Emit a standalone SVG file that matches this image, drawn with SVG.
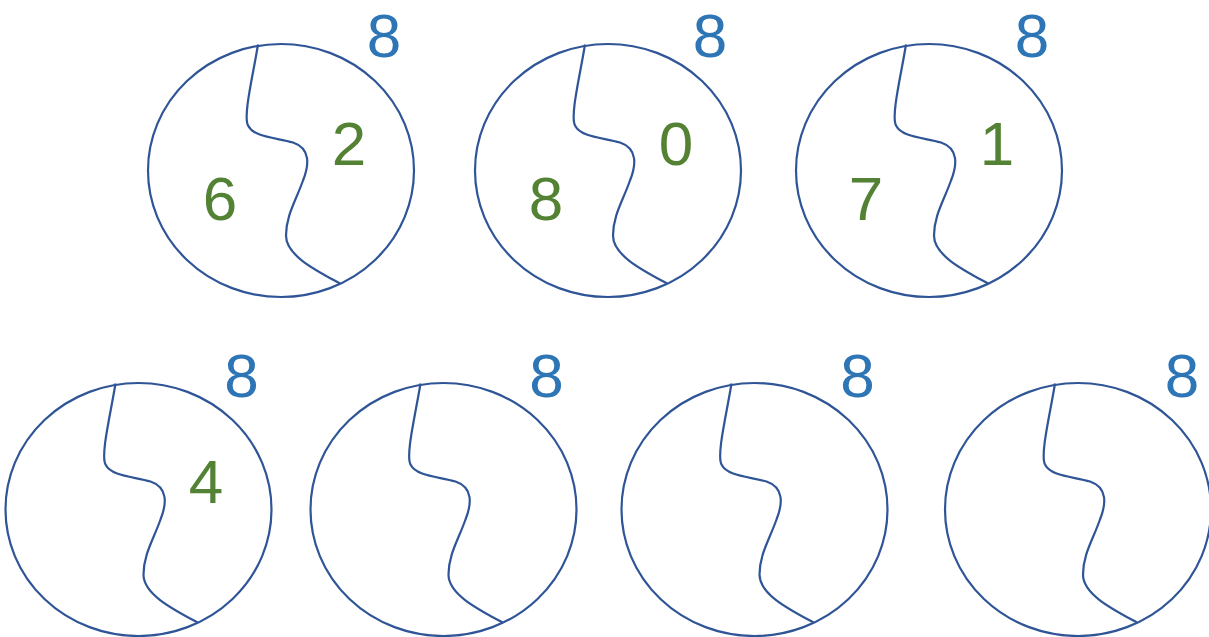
<svg xmlns="http://www.w3.org/2000/svg" xmlns:xlink="http://www.w3.org/1999/xlink" width="1209" height="637" viewBox="0 0 1209 637">
<style>
.c{fill:none;stroke:#2F5597;stroke-width:2.2}
.t{font-family:"Liberation Sans",Arial,sans-serif;font-size:62px;text-anchor:middle}
.b{fill:#2E75B6}
.g{fill:#548235}
</style>
<defs>
<g id="bubble">
<ellipse class="c" cx="0" cy="0" rx="133" ry="126.5"/>
<path class="c" d="M-23,-126 C-28,-95 -38,-55 -33,-45 C-27,-33 -5,-33 12,-28 C30,-22 28,-5 22,10 C15,30 5,45 5,65 C5,85 35,100 59,113"/>
</g>
</defs>
<rect width="1209" height="637" fill="#fff"/>
<g id="n1"><use xlink:href="#bubble" x="281" y="170.5"/><text class="t b" x="384" y="57">8</text><text class="t g" x="220" y="220">6</text><text class="t g" x="349" y="165">2</text></g>
<g id="n2"><use xlink:href="#bubble" x="608" y="170.5"/><text class="t b" x="710" y="57">8</text><text class="t g" x="546" y="220">8</text><text class="t g" x="676" y="165">0</text></g>
<g id="n3"><use xlink:href="#bubble" x="929" y="170.5"/><text class="t b" x="1032" y="57">8</text><text class="t g" x="866" y="220">7</text><text class="t g" x="997" y="165">1</text></g>
<g id="n4"><use xlink:href="#bubble" x="138.5" y="509.5"/><text class="t b" x="241.5" y="397">8</text><text class="t g" x="206" y="503">4</text></g>
<g id="n5"><use xlink:href="#bubble" x="443.5" y="509.5"/><text class="t b" x="546.5" y="397">8</text></g>
<g id="n6"><use xlink:href="#bubble" x="754.5" y="509.5"/><text class="t b" x="857.5" y="397">8</text></g>
<g id="n7"><use xlink:href="#bubble" x="1078" y="509.5"/><text class="t b" x="1182" y="397">8</text></g>
<g id="connectors"/>
</svg>
